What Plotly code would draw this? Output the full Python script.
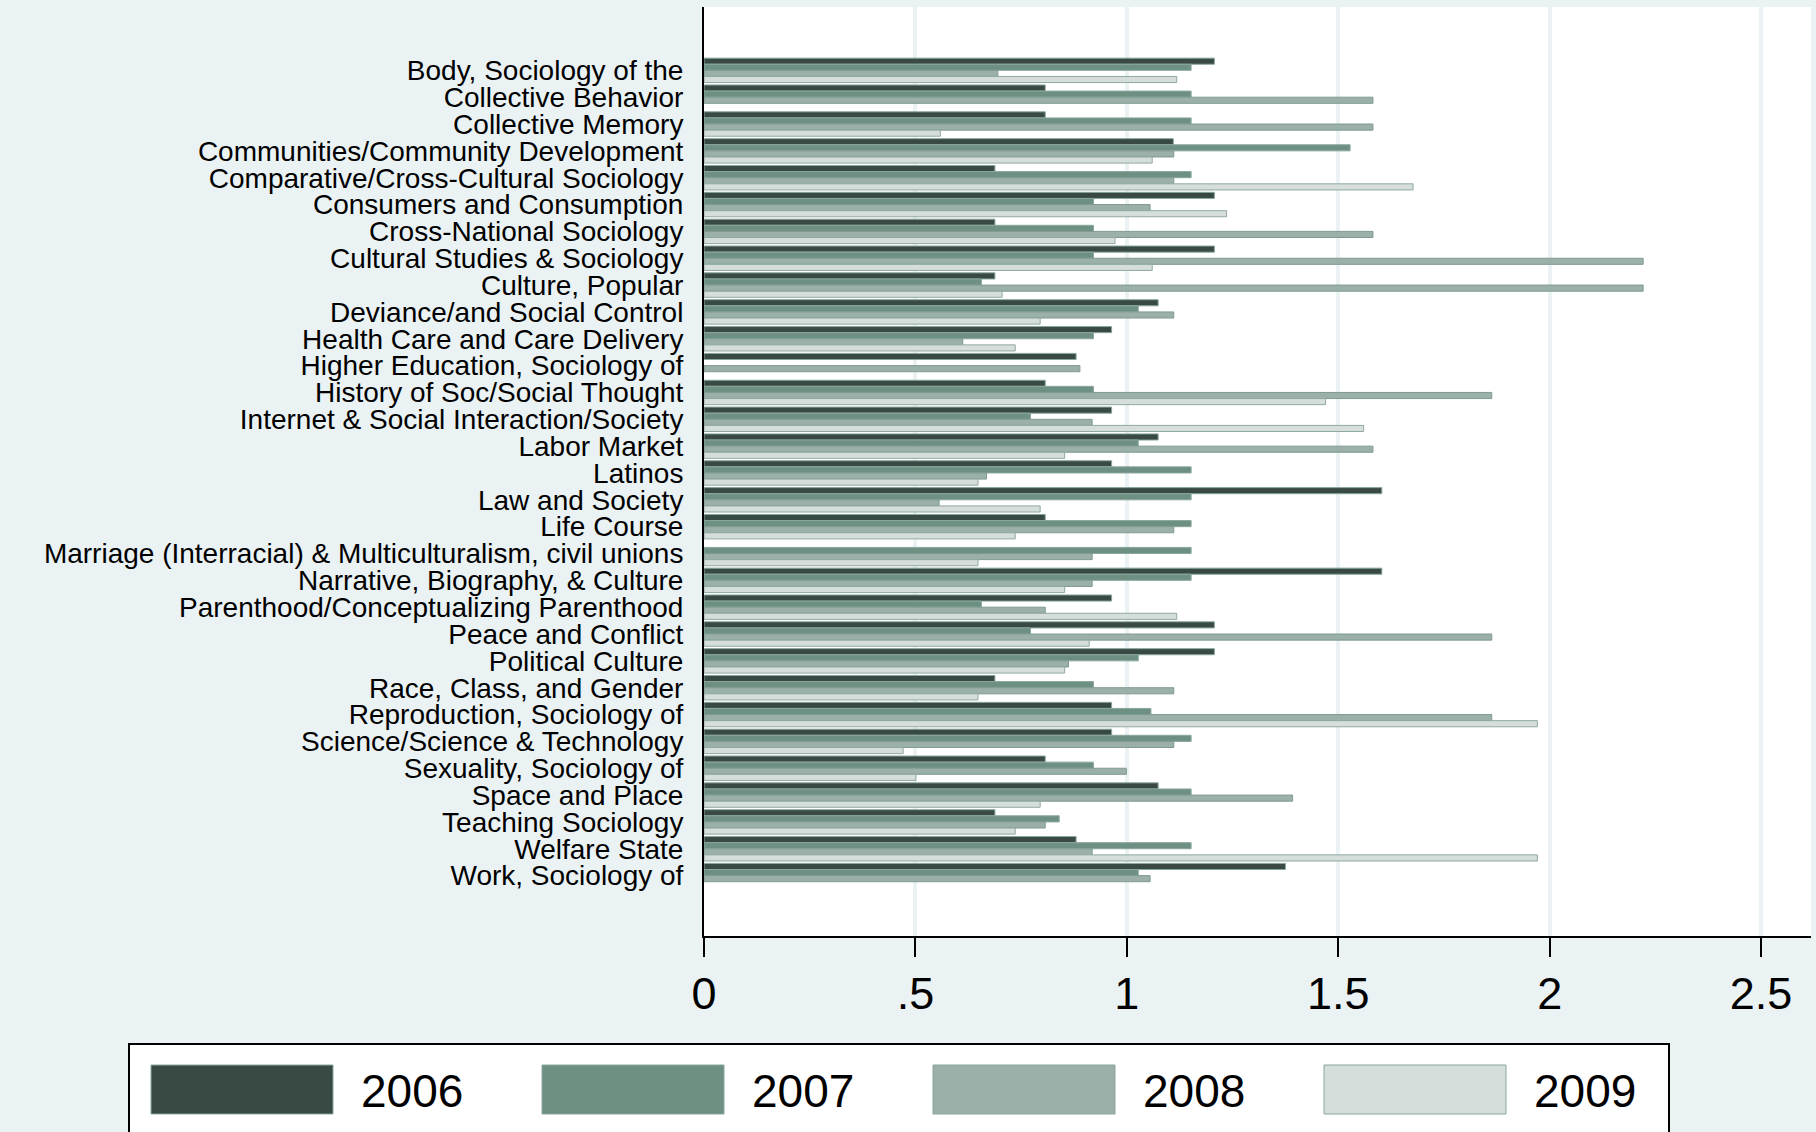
import plotly.graph_objects as go

categories = [
    "Body, Sociology of the", "Collective Behavior", "Collective Memory",
    "Communities/Community Development", "Comparative/Cross-Cultural Sociology",
    "Consumers and Consumption", "Cross-National Sociology", "Cultural Studies & Sociology",
    "Culture, Popular", "Deviance/and Social Control", "Health Care and Care Delivery",
    "Higher Education, Sociology of", "History of Soc/Social Thought",
    "Internet & Social Interaction/Society", "Labor Market", "Latinos", "Law and Society",
    "Life Course", "Marriage (Interracial) & Multiculturalism, civil unions",
    "Narrative, Biography, & Culture", "Parenthood/Conceptualizing Parenthood",
    "Peace and Conflict", "Political Culture", "Race, Class, and Gender",
    "Reproduction, Sociology of", "Science/Science & Technology", "Sexuality, Sociology of",
    "Space and Place", "Teaching Sociology", "Welfare State", "Work, Sociology of",
]

years = ["2006", "2007", "2008", "2009"]

v2006 = [1.207, 0.807, 0.807, 1.110, 0.688, 1.207, 0.688, 1.207, 0.688, 1.074, 0.964,
         0.880, 0.807, 0.964, 1.074, 0.964, 1.603, 0.807, None, 1.603, 0.964,
         1.207, 1.207, 0.688, 0.964, 0.964, 0.807, 1.074, 0.688, 0.880, 1.375]
v2007 = [1.152, 1.152, 1.152, 1.528, 1.152, 0.921, 0.921, 0.921, 0.656, 1.027, 0.921,
         None, 0.921, 0.772, 1.027, 1.152, 1.152, 1.152, 1.152, 1.152, 0.656,
         0.772, 1.027, 0.921, 1.057, 1.152, 0.921, 1.152, 0.840, 1.152, 1.027]
v2008 = [0.695, 1.582, 1.582, 1.111, 1.111, 1.055, 1.582, 2.221, 2.221, 1.111, 0.612,
         0.889, 1.863, 0.918, 1.582, 0.668, 0.556, 1.111, 0.918, 0.918, 0.807,
         1.863, 0.862, 1.111, 1.863, 1.111, 0.999, 1.392, 0.807, 0.918, 1.055]
v2009 = [1.118, None, 0.559, 1.060, 1.677, 1.236, 0.972, 1.060, 0.705, 0.795, 0.736,
         None, 1.470, 1.560, 0.853, 0.648, 0.795, 0.736, 0.648, 0.853, 1.118,
         0.911, 0.853, 0.648, 1.971, 0.471, 0.501, 0.795, 0.736, 1.971, None]

xticks = [0, 0.5, 1, 1.5, 2, 2.5]
xticklabels = ["0", ".5", "1", "1.5", "2", "2.5"]

series = [v2006, v2007, v2008, v2009]
colors = ["#384A43", "#6E9083", "#9BB0A9", "#D5DEDB"]
outlines = ["#8AA79C", "#8AA79C", "#7F9A91", "#90A9A0"]

BG = "#EAF2F3"
W, H = 1816, 1132
L, R, T, B = 704, 5, 7, 196

fig = go.Figure()
for name, vals, col, oc in zip(years, series, colors, outlines):
    fig.add_trace(go.Bar(
        y=categories, x=vals, name=name, orientation="h",
        marker=dict(color=col, line=dict(color=oc, width=1)),
        showlegend=False,
    ))

fig.update_layout(
    width=W, height=H,
    margin=dict(l=L, r=R, t=T, b=B),
    paper_bgcolor=BG, plot_bgcolor="white",
    barmode="group", bargap=0.09, bargroupgap=0,
    font=dict(family="Liberation Sans, Arial, sans-serif", color="black"),
)

fig.update_xaxes(
    range=[0, 2.618], tickmode="array", tickvals=xticks, ticktext=xticklabels,
    ticks="outside", ticklen=19, tickwidth=2, tickcolor="black",
    tickfont=dict(size=45), ticklabelstandoff=-2,
    showline=True, linecolor="black", linewidth=2,
    showgrid=True, gridcolor=BG, gridwidth=4, zeroline=False,
)
fig.update_yaxes(
    type="category", range=[32.25, -2.36], tickmode="array",
    tickvals=categories, ticktext=categories, ticks="",
    tickfont=dict(size=28), ticklabelstandoff=13,
    showline=True, linecolor="black", linewidth=2, showgrid=False, zeroline=False,
)

# legend drawn by hand (Stata style big swatches)
pw, ph = W - L - R, H - T - B


def px(x):
    return (x - L) / pw


def py(y):
    return (H - B - y) / ph


fig.add_shape(type="rect", xref="paper", yref="paper",
              x0=px(129), x1=px(1669), y0=py(1044), y1=py(1180),
              fillcolor="white", line=dict(color="black", width=2), layer="above")
for i, (name, col) in enumerate(zip(years, colors)):
    x0 = 151 + i * 391
    fig.add_shape(type="rect", xref="paper", yref="paper",
                  x0=px(x0), x1=px(x0 + 182), y0=py(1065), y1=py(1114),
                  fillcolor=col, line=dict(color="#8AA79C", width=1), layer="above")
    fig.add_annotation(xref="paper", yref="paper", x=px(x0 + 208), y=py(1091),
                       text=name, showarrow=False, xanchor="left", yanchor="middle",
                       font=dict(size=46, color="black"))

fig.write_html("out.html", config={"displayModeBar": False},
               post_script="document.body.style.margin='0';")
